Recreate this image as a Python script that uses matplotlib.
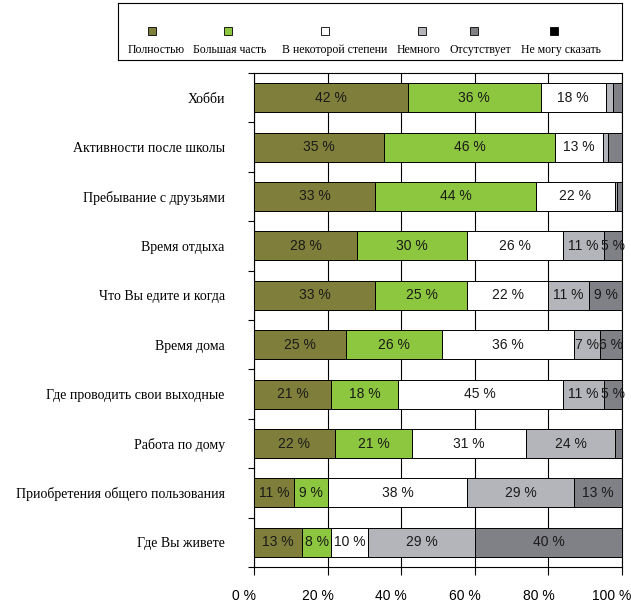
import matplotlib.pyplot as plt
import matplotlib.transforms as mtransforms
from matplotlib.patches import Rectangle
import numpy as np

# Categories, top to bottom
categories = ['Хобби', 'Активности после школы', 'Пребывание с друзьями', 'Время отдыха',
              'Что Вы едите и когда', 'Время дома', 'Где проводить свои выходные',
              'Работа по дому', 'Приобретения общего пользования', 'Где Вы живете']

series_names = ['Полностью', 'Большая часть', 'В некоторой степени', 'Немного',
                'Отсутствует', 'Не могу сказать']
colors = ['#7f7f3b', '#8dc63f', '#ffffff', '#b3b5ba', '#808087', '#000000']

# values in %, one list per answer option
full = [41.8, 35.4, 33.0, 28, 33, 25, 21, 22, 11, 13]
most = [36.1, 46.4, 43.6, 30, 25, 26, 18, 21, 9, 8]
some = [17.7, 13.0, 21.5, 26, 22, 36, 45, 31, 38, 10]
little = [2.0, 1.4, 0.6, 11, 11, 7, 11, 24, 29, 29]
none_ = [2.4, 3.8, 1.3, 5, 9, 6, 5, 2, 13, 40]
dont_know = [0, 0, 0, 0, 0, 0, 0, 0, 0, 0]

data = [full, most, some, little, none_, dont_know]
xticks = [0, 20, 40, 60, 80, 100]

W, H = 631, 608
fig = plt.figure(figsize=(W / 100, H / 100), dpi=100)
ax = fig.add_axes([254 / W, 1 - 567 / H, (622 - 254) / W, (567 - 73) / H])

y = np.arange(len(categories))
left = np.zeros(len(categories))
for vals, col in zip(data, colors):
    vals = np.array(vals, dtype=float)
    bars = ax.barh(y, vals, left=left, height=0.59, color=col, edgecolor='black',
                   linewidth=0.7, zorder=3)
    for b, v in zip(bars, vals):
        if v >= 5:
            ax.text(b.get_x() + b.get_width() / 2, b.get_y() + b.get_height() / 2,
                    f'{v:.0f} %', ha='center', va='center', fontsize=10,
                    family='Liberation Sans', color='#1a1a1a', zorder=4)
    left += vals

ax.set_xlim(0, 100)
ax.set_ylim(len(categories) - 0.5, -0.5)

ax.set_yticks(y)
ax.set_yticklabels(categories, family='Liberation Serif', fontsize=10)
ax.tick_params(axis='y', which='major', length=0, pad=21)
ax.set_yticks(np.arange(len(categories) + 1) - 0.5, minor=True)
ax.tick_params(axis='y', which='minor', length=4, width=0.8, direction='out')

ax.set_xticks(xticks)
ax.set_xticklabels([f'{t} %' for t in xticks], family='Liberation Sans', fontsize=10)
ax.tick_params(axis='x', length=6, width=0.8, direction='out', pad=10)
shift = mtransforms.ScaledTranslation(-10 / 100, 0, fig.dpi_scale_trans)
for lab in ax.get_xticklabels():
    lab.set_transform(lab.get_transform() + shift)

ax.grid(axis='x', color='black', linewidth=0.8, zorder=0)
for s in ax.spines.values():
    s.set_linewidth(0.8)
    s.set_color('black')

# legend box drawn by hand: markers above labels
lg = fig.add_axes([118 / W, 1 - 60 / H, (622 - 118) / W, 57 / H])
lg.set_xlim(118, 622)
lg.set_ylim(60, 3)
lg.set_xticks([])
lg.set_yticks([])
for s in lg.spines.values():
    s.set_linewidth(0.8)
marker_x = [152, 228, 325, 422, 474, 554]
label_x = [156, 230, 335, 419, 480, 561]
for name, col, mx, tx in zip(series_names, colors, marker_x, label_x):
    lg.add_patch(Rectangle((mx - 4, 27), 8, 8, facecolor=col, edgecolor='black', linewidth=0.6))
    lg.text(tx, 50, name, ha='center', va='center', fontsize=8.5, family='Liberation Serif')

fig.savefig('out.png', dpi=100)
